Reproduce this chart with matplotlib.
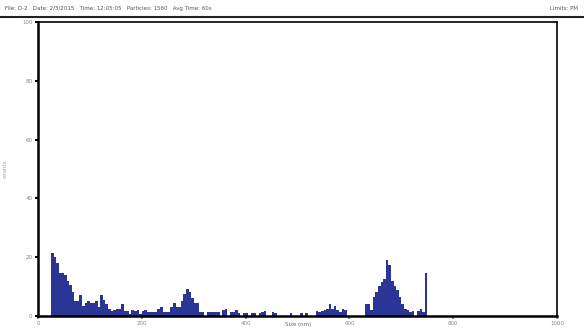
import numpy as np
import matplotlib
matplotlib.use("Agg")
import matplotlib.pyplot as plt

# particle size histogram, 5 nm bins starting at 25 nm
bin_width = 5
bin_start = 25
counts = [
    # 25 - 205
    21.5, 20, 18, 14.5, 14.5, 14, 12, 10.5, 8, 5, 5, 7, 3.5, 4.5, 5, 4.5,
    4.5, 5, 3, 7, 5.5, 4, 2.5, 1.5, 2, 2.5, 2.5, 4, 1.5, 1.5, 0.5, 2, 1.5,
    2, 0.5, 1.5, 2,
    # 210 - 380
    1.2, 1.4, 1.4, 1.4, 2.5, 3, 1.4, 1.4, 1.4, 3, 4.5, 3, 3, 5, 7.5, 9, 8,
    6, 4.5, 4.3, 1.4, 1.2, 0, 1.4, 1.4, 1.2, 1.2, 1.2, 0, 2, 2.2, 0, 1.4,
    1.4, 2,
    # 385 - 530
    1, 0, 1, 1, 0, 1, 1, 0, 1, 1.2, 1.7, 0, 0, 1.2, 1, 0, 0, 0, 0, 0, 1, 0,
    0, 0, 1, 0, 1, 0, 0, 0,
    # 535 - 625
    1.5, 1.3, 1.8, 2.1, 2.5, 4, 2.5, 3.4, 1.9, 1.4, 2.2, 1.9, 0, 0, 0, 0,
    0, 0, 0,
    # 630 - 745
    4.2, 4.2, 2, 6.5, 8.2, 10, 11.6, 12.7, 19, 17.4, 12, 10, 8.7, 6.5, 4.2,
    2.5, 1.9, 1.4, 1.5, 0, 1.6, 2.4, 1.4, 14.5,
]
x_ticks = [0, 200, 400, 600, 800, 1000]
y_ticks = [0, 20, 40, 60, 80, 100]
header_left = "File: D-2   Date: 2/3/2015   Time: 12:05:05   Particles: 1560   Avg Time: 60s"
header_right = "Limits: PM"

edges = bin_start + bin_width * np.arange(len(counts))

fig = plt.figure(figsize=(5.84, 3.28), dpi=100)
ax = fig.add_axes([0.065, 0.037, 0.889, 0.896])
ax.bar(edges, counts, width=bin_width, align="edge", color="#2a3596",
       edgecolor="none")

ax.set_xlim(0, 1000)
ax.set_ylim(0, 100)
ax.set_xticks(x_ticks)
ax.set_yticks(y_ticks)
ax.tick_params(labelsize=4, colors="#888888", length=2, width=1.5,
               pad=2)
ax.tick_params(axis="y", color="black")
for side in ax.spines.values():
    side.set_linewidth(1.2)
ax.spines["left"].set_linewidth(1.8)
ax.spines["bottom"].set_linewidth(1.8)
ax.set_ylabel("counts", fontsize=4, color="#999999", labelpad=10)
fig.text(0.51, 0.002, "Size (nm)", fontsize=4, color="#666666",
         ha="center", va="bottom")

fig.text(0.008, 0.975, header_left, fontsize=4, color="#555555", va="center")
fig.text(0.99, 0.975, header_right, fontsize=4, color="#555555",
         va="center", ha="right")
fig.add_artist(plt.Line2D([0, 1], [0.948, 0.948], color="#222222",
                          linewidth=1.5, transform=fig.transFigure))

plt.savefig("out.png", dpi=100)
